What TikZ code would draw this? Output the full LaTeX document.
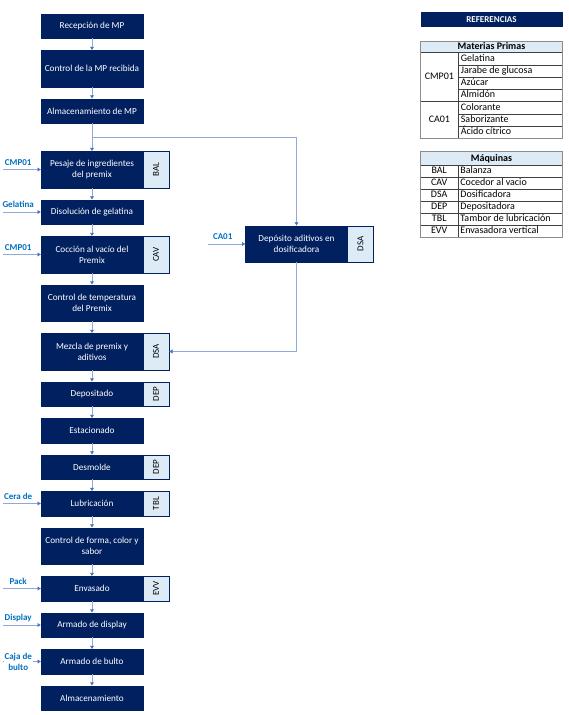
\documentclass[tikz,border=0pt]{standalone}
\usepackage{fontspec}
\setmainfont{Carlito}
\usepackage{tikz}
\usepackage{xcolor}
\usetikzlibrary{positioning, arrows.meta}

\definecolor{azuloscuro}{HTML}{002060}
\definecolor{celeste}{HTML}{DDEBF7}
\definecolor{lineaazul}{HTML}{4472C4}
\definecolor{lineaclara}{HTML}{8EAADB}
\definecolor{textoazul}{HTML}{0070C0}
\definecolor{grismarco}{HTML}{8C8C8C}
\definecolor{grislinea}{HTML}{404040}

\tikzset{
  paso/.style={rectangle, fill=azuloscuro, draw=azuloscuro, text=white,
    minimum width=102pt, minimum height=24.5pt, inner sep=1pt,
    outer sep=0pt, align=center, font=\fontsize{9.2}{11}\selectfont},
  pasoalto/.style={paso, minimum height=36.5pt},
  maq/.style={rectangle, fill=celeste, draw=azuloscuro, minimum width=26pt,
    minimum height=24.5pt, inner sep=0pt, outer sep=0pt,
    font=\fontsize{9}{11}\selectfont},
  maqalto/.style={maq, minimum height=36.5pt},
  flujo/.style={->, lineaclara, line width=0.8pt},
  insumo/.style={text=textoazul, font=\bfseries\fontsize{9}{11}\selectfont,
    inner sep=1pt, text depth=0pt},
  celda/.style={inner sep=0pt, text height=6.8pt, text depth=2pt,
    font=\fontsize{10}{12}\selectfont},
  lineatabla/.style={grislinea, line width=0.5pt},
  marcotabla/.style={grismarco, line width=1.4pt},
}

\begin{document}
\begin{tikzpicture}[x=1pt, y=-1pt, node distance=12pt,
    >={Latex[length=3.5pt,width=4.5pt,color=lineaazul]}]
\useasboundingbox (0,0) rectangle (569,715);

    % proceso principal
    \node[paso] (recepcion) at (92,26) {Recepción de MP};
    \node[pasoalto, below=of recepcion] (control) {Control de la MP recibida};
    \node[paso, below=of control] (almmp) {Almacenamiento de MP};
    \node[pasoalto, below=28pt of almmp] (pesaje) {Pesaje de ingredientes\\del premix};
    \node[paso, below=of pesaje] (disolucion) {Disolución de gelatina};
    \node[pasoalto, below=of disolucion] (coccion) {Cocción al vacío del\\Premix};
    \node[pasoalto, below=of coccion] (temperatura) {Control de temperatura\\del Premix};
    \node[pasoalto, below=of temperatura] (mezcla) {Mezcla de premix y\\aditivos};
    \node[paso, below=of mezcla] (depositado) {Depositado};
    \node[paso, below=of depositado] (estacionado) {Estacionado};
    \node[paso, below=of estacionado] (desmolde) {Desmolde};
    \node[paso, below=of desmolde] (lubricacion) {Lubricación};
    \node[pasoalto, below=of lubricacion] (forma) {Control de forma, color y\\sabor};
    \node[paso, below=of forma] (envasado) {Envasado};
    \node[paso, below=of envasado] (display) {Armado de display};
    \node[paso, below=of display] (bulto) {Armado de bulto};
    \node[paso, below=of bulto] (almacen) {Almacenamiento};

    \node[pasoalto] (deposito) at (296.5,244) {Depósito aditivos en\\dosificadora};

    % maquinas
    \node[maqalto, right=0pt of pesaje] (pesajemaq) {\rotatebox{90}{BAL}};
    \node[maqalto, right=0pt of coccion] (coccionmaq) {\rotatebox{90}{CAV}};
    \node[maqalto, right=0pt of mezcla] (mezclamaq) {\rotatebox{90}{DSA}};
    \node[maq, right=0pt of depositado] (depositadomaq) {\rotatebox{90}{DEP}};
    \node[maq, right=0pt of desmolde] (desmoldemaq) {\rotatebox{90}{DEP}};
    \node[maq, right=0pt of lubricacion] (lubricacionmaq) {\rotatebox{90}{TBL}};
    \node[maq, right=0pt of envasado] (envasadomaq) {\rotatebox{90}{EVV}};
    \node[maqalto, right=0pt of deposito] (depositomaq) {\rotatebox{90}{DSA}};

    \draw[flujo] (recepcion) edge (control);
    \draw[flujo] (control) edge (almmp);
    \draw[flujo] (almmp) edge (pesaje);
    \draw[flujo] (pesaje) edge (disolucion);
    \draw[flujo] (disolucion) edge (coccion);
    \draw[flujo] (coccion) edge (temperatura);
    \draw[flujo] (temperatura) edge (mezcla);
    \draw[flujo] (mezcla) edge (depositado);
    \draw[flujo] (depositado) edge (estacionado);
    \draw[flujo] (estacionado) edge (desmolde);
    \draw[flujo] (desmolde) edge (lubricacion);
    \draw[flujo] (lubricacion) edge (forma);
    \draw[flujo] (forma) edge (envasado);
    \draw[flujo] (envasado) edge (display);
    \draw[flujo] (display) edge (bulto);
    \draw[flujo] (bulto) edge (almacen);

    % rama de aditivos
    \coordinate[below=14pt of almmp.south] (rama);
    \draw[flujo] (rama) -| (deposito.north);
    \draw[flujo] (deposito.south) |- (mezclamaq.east);

    % insumos
    \coordinate[left=38pt of pesaje.west] (inpesaje);
    \coordinate[left=38pt of disolucion.west] (indisolucion);
    \coordinate[left=38pt of coccion.west] (incoccion);
    \coordinate[left=38pt of lubricacion.west] (inlubricacion);
    \coordinate[left=38pt of envasado.west] (inenvasado);
    \coordinate[left=38pt of display.west] (indisplay);
    \coordinate[left=38pt of bulto.west] (inbulto);
    \coordinate[left=38pt of deposito.west] (indeposito);

    \draw[flujo] (inpesaje) -- node[insumo, pos=0.4, above=3pt] {CMP01} (pesaje);
    \draw[flujo] (indisolucion) -- node[insumo, pos=0.4, above=3pt] {Gelatina} (disolucion);
    \draw[flujo] (incoccion) -- node[insumo, pos=0.4, above=3pt] {CMP01} (coccion);
    \draw[flujo] (inlubricacion) -- node[insumo, pos=0.4, above=3pt] {Cera de} (lubricacion);
    \draw[flujo] (inenvasado) -- node[insumo, pos=0.4, above=3pt] {Pack} (envasado);
    \draw[flujo] (indisplay) -- node[insumo, pos=0.4, above=3pt] {Display} (display);
    \draw[flujo] (inbulto) -- node[insumo, pos=0.4, fill=white, align=center,
        text depth=] {Caja de\\bulto} (bulto);
    \draw[flujo] (indeposito) -- node[insumo, pos=0.4, above=3pt] {CA01} (deposito);

    % referencias
    \node[fill=azuloscuro, text=white, font=\bfseries\fontsize{9}{11}\selectfont,
        minimum width=142pt, minimum height=14.7pt, inner sep=0pt]
        (referencias) at (491.5,19.3) {REFERENCIAS};

    % tabla materias primas
    \fill[celeste] (420.5,41.7) rectangle (562.5,52.5);
    \draw[lineatabla] (420.5,52.5) -- (562.5,52.5)
        (458.3,52.5) -- (458.3,138.3)
        (420.5,101.5) -- (562.5,101.5)
        (458.3,64.8) -- (562.5,64.8)
        (458.3,77.0) -- (562.5,77.0)
        (458.3,89.3) -- (562.5,89.3)
        (458.3,113.8) -- (562.5,113.8)
        (458.3,126.1) -- (562.5,126.1);
    \draw[marcotabla] (420.5,41.7) rectangle (562.5,138.3);
    \node[celda, font=\bfseries\fontsize{10}{12}\selectfont] (mptitulo) at (491.5,47.3) {Materias Primas};
    \node[celda] (cmp) at (439.4,77.0) {CMP01};
    \node[celda] (ca) at (439.4,119.9) {CA01};
    \node[celda, anchor=west] (gelatina) at (460.7,58.7) {Gelatina};
    \node[celda, anchor=west] (jarabe) at (460.7,70.9) {Jarabe de glucosa};
    \node[celda, anchor=west] (azucar) at (460.7,83.2) {Azúcar};
    \node[celda, anchor=west] (almidon) at (460.7,95.4) {Almidón};
    \node[celda, anchor=west] (colorante) at (460.7,107.7) {Colorante};
    \node[celda, anchor=west] (saborizante) at (460.7,119.9) {Saborizante};
    \node[celda, anchor=west] (citrico) at (460.7,132.2) {Ácido cítrico};

    % tabla maquinas
    \fill[celeste] (420.5,151.7) rectangle (562.5,165.5);
    \draw[lineatabla] (420.5,165.5) -- (562.5,165.5)
        (457.8,165.5) -- (457.8,237.3)
        (420.5,177.5) -- (562.5,177.5)
        (420.5,189.4) -- (562.5,189.4)
        (420.5,201.4) -- (562.5,201.4)
        (420.5,213.4) -- (562.5,213.4)
        (420.5,225.3) -- (562.5,225.3);
    \draw[marcotabla] (420.5,151.7) rectangle (562.5,237.3);
    \node[celda, font=\bfseries\fontsize{10}{12}\selectfont] (mqtitulo) at (491.5,158.6) {Máquinas};
    \node[celda] (bal) at (439.2,171.5) {BAL};
    \node[celda] (cav) at (439.2,183.5) {CAV};
    \node[celda] (dsa) at (439.2,195.4) {DSA};
    \node[celda] (dep) at (439.2,207.4) {DEP};
    \node[celda] (tbl) at (439.2,219.4) {TBL};
    \node[celda] (evv) at (439.2,231.3) {EVV};
    \node[celda, anchor=west] (balanza) at (460.2,171.5) {Balanza};
    \node[celda, anchor=west] (cocedor) at (460.2,183.5) {Cocedor al vacio};
    \node[celda, anchor=west] (dosificadora) at (460.2,195.4) {Dosificadora};
    \node[celda, anchor=west] (depositadora) at (460.2,207.4) {Depositadora};
    \node[celda, anchor=west] (tambor) at (460.2,219.4) {Tambor de lubricación};
    \node[celda, anchor=west] (envasadora) at (460.2,231.3) {Envasadora vertical};
\end{tikzpicture}
\end{document}
